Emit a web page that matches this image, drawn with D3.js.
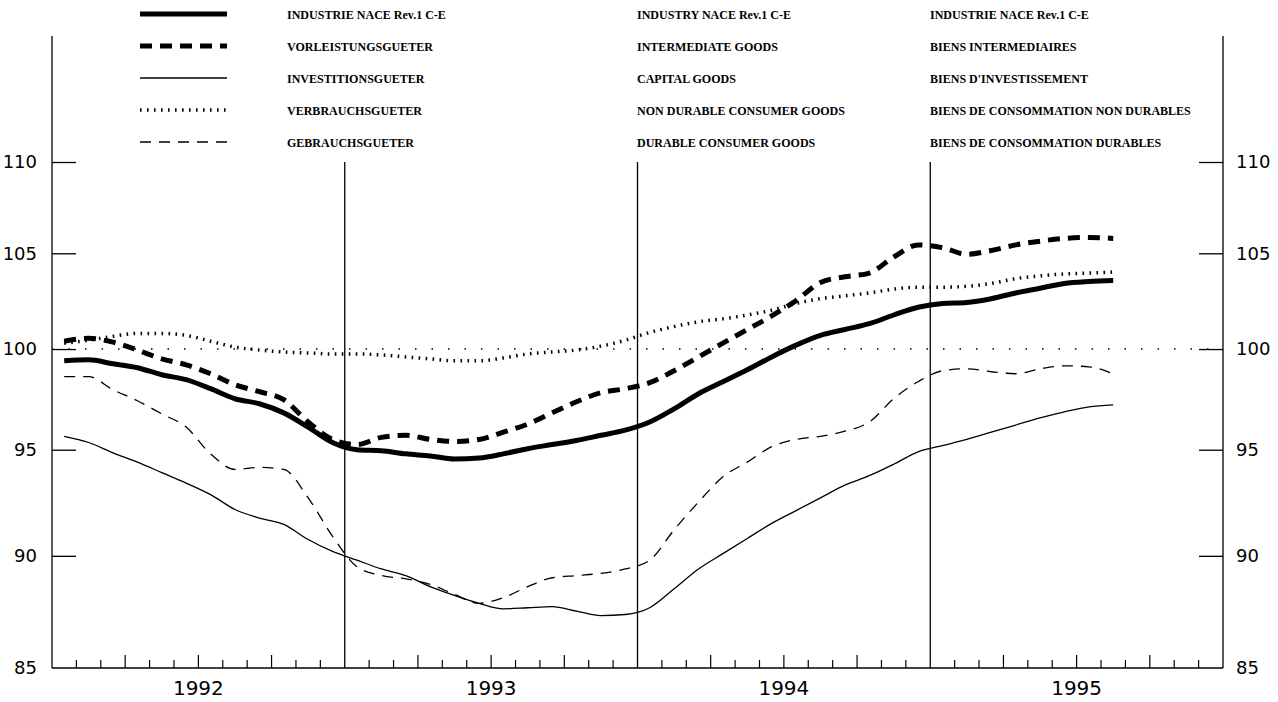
<!DOCTYPE html>
<html><head><meta charset="utf-8">
<script src="https://cdn.jsdelivr.net/npm/d3@7"></script>
<style>body{margin:0;background:#fff}svg{display:block}</style>
</head><body>
<svg id="c" width="1278" height="702"></svg>
<script>
// ---- data ----
const years = [1992, 1993, 1994, 1995];
const yTicks = [90, 95, 100, 105, 110];
const industry = [99.4,99.45,99.25,99.05,98.7,98.45,98.0,97.5,97.25,96.8,96.1,95.35,
  95.0,94.95,94.8,94.7,94.55,94.6,94.8,95.05,95.25,95.45,95.7,95.95,
  96.35,97.0,97.75,98.35,98.95,99.6,100.2,100.7,101.0,101.3,101.75,102.15,
  102.35,102.4,102.6,102.9,103.15,103.4,103.5,103.55];
const intermediate = [100.4,100.55,100.35,99.95,99.5,99.2,98.75,98.2,97.85,97.45,96.35,95.5,
  95.25,95.6,95.7,95.5,95.4,95.5,95.85,96.25,96.8,97.35,97.8,98.0,
  98.3,98.9,99.6,100.3,101.0,101.7,102.5,103.45,103.75,103.95,104.8,105.45,
  105.3,104.95,105.15,105.45,105.65,105.8,105.85,105.8];
const capital = [95.65,95.35,94.85,94.4,93.9,93.4,92.85,92.15,91.75,91.45,90.75,90.2,
  89.8,89.4,89.1,88.6,88.2,87.85,87.6,87.65,87.7,87.5,87.3,87.35,
  87.65,88.5,89.4,90.1,90.8,91.5,92.1,92.7,93.3,93.75,94.3,94.9,
  95.2,95.5,95.85,96.2,96.55,96.85,97.1,97.2];
const nonDurable = [100.3,100.45,100.65,100.8,100.8,100.7,100.4,100.1,99.95,99.85,99.8,99.75,
  99.75,99.7,99.6,99.5,99.4,99.4,99.55,99.75,99.85,99.95,100.15,100.45,
  100.85,101.15,101.4,101.55,101.75,102.0,102.35,102.6,102.75,102.9,103.1,103.2,
  103.2,103.25,103.4,103.65,103.8,103.9,103.95,104.0];
const durable = [98.6,98.6,97.95,97.4,96.75,96.1,94.8,94.05,94.15,94.05,92.7,90.9,
  89.5,89.1,88.95,88.7,88.25,87.85,88.1,88.6,89.0,89.1,89.2,89.4,
  89.8,91.2,92.5,93.7,94.4,95.15,95.5,95.65,95.9,96.35,97.5,98.35,
  98.9,99.0,98.85,98.75,99.0,99.15,99.1,98.75];
const labelsDE = ["INDUSTRIE NACE Rev.1 C-E","VORLEISTUNGSGUETER","INVESTITIONSGUETER","VERBRAUCHSGUETER","GEBRAUCHSGUETER"];
const labelsEN = ["INDUSTRY NACE Rev.1 C-E","INTERMEDIATE GOODS","CAPITAL GOODS","NON DURABLE CONSUMER GOODS","DURABLE CONSUMER GOODS"];
const labelsFR = ["INDUSTRIE NACE Rev.1 C-E","BIENS INTERMEDIAIRES","BIENS D'INVESTISSEMENT","BIENS DE CONSOMMATION NON DURABLES","BIENS DE CONSOMMATION DURABLES"];

// ---- styles ----
const styles = [
  {w: 5, dash: null},
  {w: 5, dash: "12,8"},
  {w: 1.3, dash: null},
  {w: 3.5, dash: "1.6,5.4"},
  {w: 1.3, dash: "11,8"}
];
const seriesList = [industry, intermediate, capital, nonDurable, durable];

const svg = d3.select("#c");
const L = 52, R = 1223, B = 668, T = 36;
const nMonths = years.length * 12;
const x = d3.scaleLinear().domain([0, nMonths]).range([L, R]);
const y = d3.scaleLog().domain([85, 110]).range([B, 162]);

// reference line at 100
svg.append("line").attr("x1", L).attr("x2", R).attr("y1", y(100)).attr("y2", y(100))
  .attr("stroke", "#000").attr("stroke-width", 1.5).attr("stroke-dasharray", "1.5,15");

// axes frame
const g = svg.append("g").attr("stroke", "#000").attr("fill", "none");
g.append("line").attr("x1", L).attr("x2", L).attr("y1", T).attr("y2", B).attr("stroke-width", 1.3);
g.append("line").attr("x1", R).attr("x2", R).attr("y1", T).attr("y2", B).attr("stroke-width", 1.3);
g.append("line").attr("x1", L).attr("x2", R).attr("y1", B).attr("y2", B).attr("stroke-width", 1.3);

// year separators
years.slice(1).forEach((yr, i) => {
  const xx = x((i + 1) * 12);
  g.append("line").attr("x1", xx).attr("x2", xx).attr("y1", y(110)).attr("y2", B).attr("stroke-width", 1.3);
});
// month ticks
d3.range(1, nMonths).filter(m => m % 12 !== 0).forEach(m => {
  const xx = x(m);
  const h = (m % 3 === 0) ? 13 : 8;
  g.append("line").attr("x1", xx).attr("x2", xx).attr("y1", B).attr("y2", B - h).attr("stroke-width", 1.2);
});

// y ticks and labels
const yAxisL = d3.axisLeft(y).tickValues(yTicks).tickSize(-24).tickPadding(15).tickFormat(d3.format("d"));
const yAxisR = d3.axisRight(y).tickValues(yTicks).tickSize(-24).tickPadding(13).tickFormat(d3.format("d"));
const aL = svg.append("g").attr("transform", `translate(${L},0)`).call(yAxisL);
const aR = svg.append("g").attr("transform", `translate(${R},0)`).call(yAxisR);
[aL, aR].forEach(a => {
  a.select(".domain").remove();
  a.selectAll(".tick line").attr("stroke", "#000").attr("stroke-width", 1.3);
  a.selectAll(".tick text").attr("font-family", "DejaVu Sans").attr("font-size", 18).attr("fill", "#000");
});
// 85 labels at the bottom
svg.append("text").attr("x", L - 15).attr("y", B).attr("dy", "0.32em").attr("text-anchor", "end")
  .attr("font-family", "DejaVu Sans").attr("font-size", 18).text("85");
svg.append("text").attr("x", R + 13).attr("y", B).attr("dy", "0.32em").attr("text-anchor", "start")
  .attr("font-family", "DejaVu Sans").attr("font-size", 18).text("85");

// year labels
years.forEach((yr, i) => {
  svg.append("text").attr("x", x(i * 12 + 6)).attr("y", 695).attr("text-anchor", "middle")
    .attr("font-family", "DejaVu Sans").attr("font-size", 20).text(yr);
});

// lines
const line = d3.line().x((d, i) => x(i + 0.5)).y(d => y(d)).curve(d3.curveMonotoneX);
seriesList.forEach((s, k) => {
  svg.append("path").attr("d", line(s)).attr("fill", "none").attr("stroke", "#000")
    .attr("stroke-width", styles[k].w).attr("stroke-dasharray", styles[k].dash)
    .attr("stroke-linejoin", "round");
});

// legend
const rowY = [14, 46, 78, 110, 142];
const colX = [287, 637, 930];
styles.forEach((st, k) => {
  svg.append("line").attr("x1", 140).attr("x2", 227).attr("y1", rowY[k]).attr("y2", rowY[k])
    .attr("stroke", "#000").attr("stroke-width", st.w).attr("stroke-dasharray", st.dash);
});
[labelsDE, labelsEN, labelsFR].forEach((labels, c) => {
  labels.forEach((t, k) => {
    const te = svg.append("text").attr("x", colX[c]).attr("y", rowY[k]).attr("dy", "0.35em")
      .attr("font-family", "Liberation Serif").attr("font-weight", "bold").attr("font-size", 13.5).text(t);
    const w = te.node().getComputedTextLength();
    te.attr("textLength", w * 0.89).attr("lengthAdjust", "spacingAndGlyphs");
  });
});
</script>
</body></html>
